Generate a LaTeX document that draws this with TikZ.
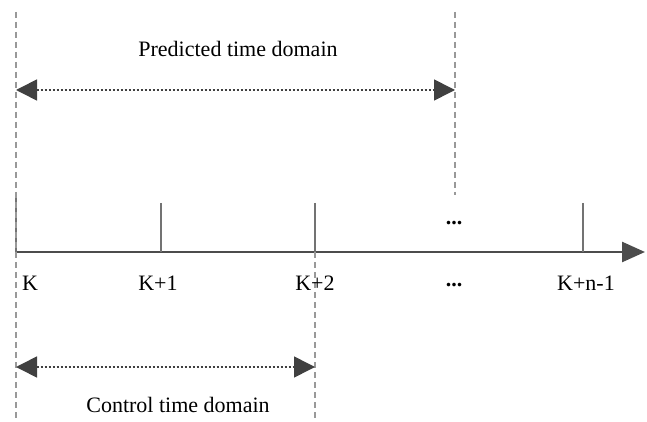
\documentclass[tikz,border=0pt]{standalone}
\usepackage{fontspec}
\setmainfont{Liberation Serif}
\usetikzlibrary{positioning,arrows.meta}
\tikzset{
  axisline/.style={-{Triangle[length=11.5pt,width=10pt]}, line width=1.3pt, draw=black!70},
  tickline/.style={line width=0.7pt, draw=black!55},
  guide/.style={draw=black!40, line width=0.6pt, dash pattern=on 3pt off 2pt},
  span/.style={{Triangle[length=10.5pt,width=10.5pt]}-{Triangle[length=10.5pt,width=10.5pt]},
               line width=0.8pt, draw=black!75, dash pattern=on 1.2pt off 0.8pt},
  lbl/.style={font=\fontsize{11}{13}\selectfont, inner sep=0pt, anchor=base},
}

\begin{document}
\begin{tikzpicture}[x=0.5pt, y=-0.5pt]
  \useasboundingbox (0,0) rectangle (647,422);

  % axis and ticks
  \coordinate (o) at (16,252);
  \coordinate (end) at (645,252);
  \draw[axisline] (o) -- (end);
  \coordinate (t0) at (16,198);
  \coordinate (t1) at (161,203);  \coordinate (b1) at (161,252);
  \coordinate (t2) at (315,203);  \coordinate (b2) at (315,252);
  \coordinate (t3) at (583,203);  \coordinate (b3) at (583,252);
  \draw[tickline] (t0) -- (o);
  \draw[tickline] (t1) -- (b1);
  \draw[tickline] (t2) -- (b2);
  \draw[tickline] (t3) -- (b3);

  % guides
  \coordinate (gk) at (16,12);     \coordinate (gkend) at (16,422);
  \coordinate (gp) at (455,12);    \coordinate (gpend) at (455,195);
  \coordinate (gc) at (315,252);   \coordinate (gcend) at (315,422);
  \draw[guide] (gk) -- (gkend);
  \draw[guide] (gp) -- (gpend);
  \draw[guide] (gc) -- (gcend);

  % labels
  \node[lbl] (k0) at (30,290) {K};
  \node[lbl] (k1) at (158,290) {K+1};
  \node[lbl] (k2) at (315,290) {K+2};
  \node[lbl] (kd) at (454,286) {\textbf{...}};
  \node[lbl] (kn) at (586,290) {K+n-1};
  \node[lbl] (td) at (454,225) {\textbf{...}};

  % domains
  \coordinate (pl) at (16,90);  \coordinate (pr) at (455,90);
  \coordinate (cl) at (16,367); \coordinate (cr) at (315,367);
  \draw[span] (pl) -- (pr);
  \draw[span] (cl) -- (cr);
  \node[lbl] (pred) at (238,57) {Predicted time domain};
  \node[lbl] (ctrl) at (178,412) {Control time domain};
\end{tikzpicture}
\end{document}
